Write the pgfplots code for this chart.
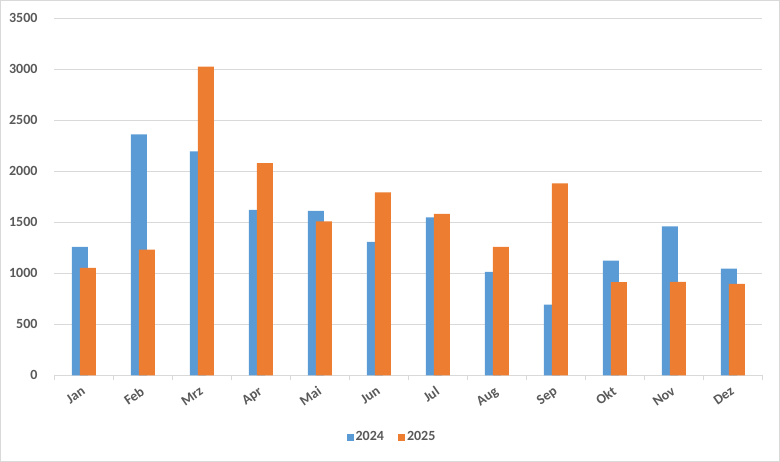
\documentclass[border=0pt]{standalone}
\usepackage{pgfplots}
\pgfplotsset{compat=1.18}
\usepackage{fontspec}
\setmainfont{Carlito}
\definecolor{cblue}{HTML}{5B9BD5}
\definecolor{corange}{HTML}{ED7D31}
\definecolor{ctext}{HTML}{595959}
\definecolor{cgrid}{HTML}{D9D9D9}
\begin{document}
\begin{tikzpicture}
\draw[cgrid, line width=1bp] (0.5bp,0.5bp) rectangle (779.5bp,461.5bp);
\useasboundingbox (0,0) rectangle (780bp,462bp);
\begin{axis}[
  at={(54.3bp,86.7bp)}, anchor=south west,
  scale only axis, width=708bp, height=357.3bp,
  xmin=0.5, xmax=12.5, ymin=0, ymax=3500,
  axis x line*=bottom, axis y line*=left,
  y axis line style={draw=none},
  x axis line style={cgrid, line width=0.9bp},
  ytick={0,500,...,3500},
  ymajorgrids, grid style={cgrid, line width=0.9bp},
  xtick={1,...,12},
  xticklabels={Jan,Feb,Mrz,Apr,Mai,Jun,Jul,Aug,Sep,Okt,Nov,Dez},
  minor xtick={0.5,1.5,...,12.5},
  major tick style={draw=none},
  minor tick style={draw=cgrid, line width=0.9bp},
  minor tick length=5bp, tick align=outside,
  /pgf/number format/assume math mode=true,
  /pgf/number format/1000 sep={},
  scaled y ticks=false,
  ticklabel style={font=\fontsize{14bp}{16bp}\selectfont\bfseries, text=ctext},
  yticklabel style={anchor=east, xshift=-9bp},
  xticklabel style={xshift=-3bp, yshift=-6bp, rotate=35, anchor=north east, inner sep=0pt},
  legend style={at={(0.477,-0.173)}, anchor=center, draw=none, fill=none,
    font=\fontsize{14bp}{16bp}\selectfont\bfseries, text=ctext,
    /tikz/every even column/.append style={column sep=12bp}},
  legend columns=2,
  legend image code/.code={\fill[#1] (0bp,-3.5bp) rectangle (7bp,3.5bp);},
]
\addplot[ybar, bar width=16bp, bar shift=-4bp, fill=cblue, draw=none] coordinates {
(1,1258) (2,2360) (3,2193) (4,1621) (5,1611) (6,1307) (7,1546) (8,1013) (9,693) (10,1124) (11,1458) (12,1046)};
\addlegendentry{2024}
\addplot[ybar, bar width=16bp, bar shift=4bp, fill=corange, draw=none] coordinates {
(1,1052) (2,1232) (3,3023) (4,2078) (5,1507) (6,1791) (7,1581) (8,1258) (9,1879) (10,912) (11,915) (12,895)};
\addlegendentry{2025}
\end{axis}
\end{tikzpicture}
\end{document}
